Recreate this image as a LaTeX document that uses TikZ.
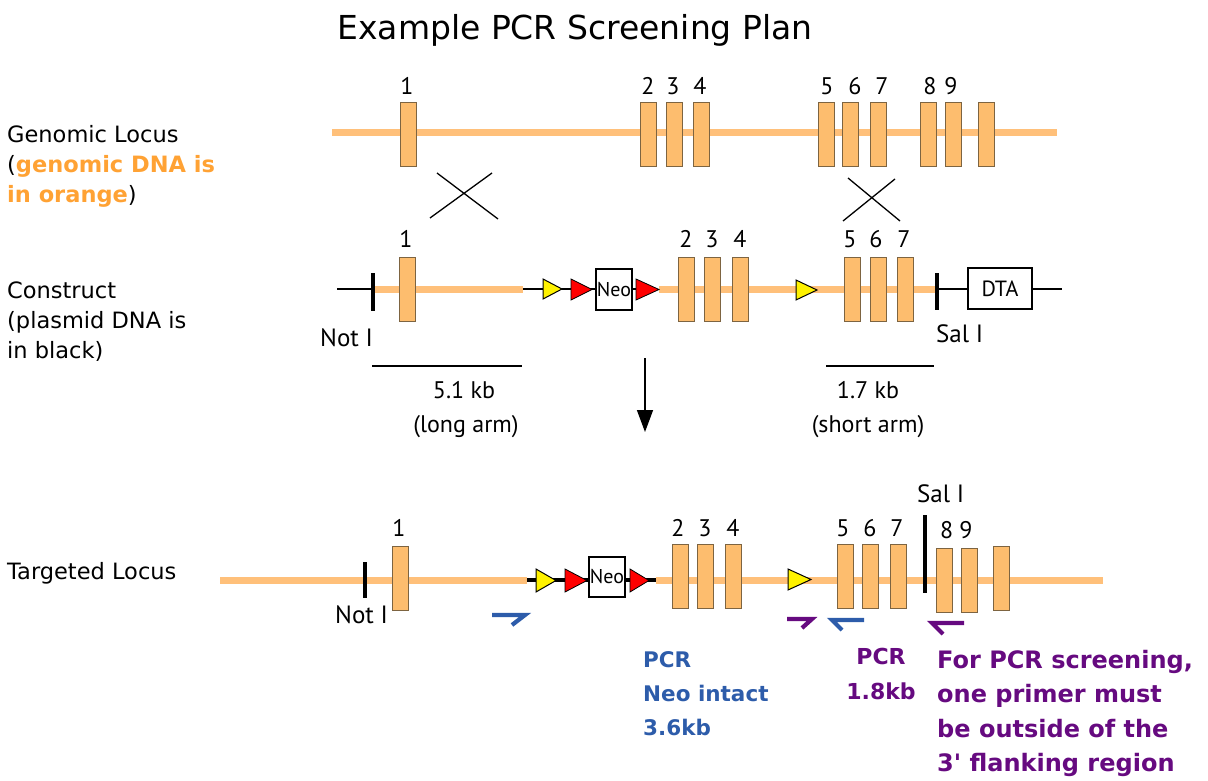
\documentclass[tikz,border=0pt]{standalone}
\usepackage{fontspec}
\setmainfont{DejaVu Sans}
\newfontfamily\labfont{PT Sans}
\usetikzlibrary{arrows.meta,positioning}

\definecolor{dnaorange}{RGB}{255,192,122}
\definecolor{exonfill}{RGB}{253,189,110}
\definecolor{exonedge}{RGB}{125,100,65}
\definecolor{txtorange}{RGB}{255,162,52}
\definecolor{pcrblue}{RGB}{45,92,170}
\definecolor{pcrpurple}{RGB}{102,10,128}

\begin{document}
\begin{tikzpicture}[>=Stealth,x=1pt,y=-1pt,
 exon/.style={draw=exonedge,fill=exonfill,line width=0.8pt,minimum width=16pt,minimum height=64pt,inner sep=0pt},
 num/.style={font=\labfont\fontsize{24}{24}\selectfont,anchor=base,inner sep=0pt},
 site/.style={font=\labfont\fontsize{25}{25}\selectfont,anchor=base west,inner sep=0pt},
 lbl/.style={font=\fontsize{22.5}{30}\selectfont,align=left,anchor=north west,inner sep=0pt},
 gbox/.style={draw,line width=1.2pt,fill=white,inner sep=0pt,font=\labfont},
 dna/.style={dnaorange,line width=7pt},
 plas/.style={black,line width=2pt},
 cut/.style={black,line width=3.5pt},
 loxy/.style={fill=yellow,draw=black,line width=1pt},
 loxr/.style={fill=red,draw=black,line width=0.8pt},
 primer/.style={line width=4.2pt,line join=miter}]
\useasboundingbox (0,0) rectangle (1208,781);

% title and row labels
\node[font=\fontsize{33}{33}\selectfont,anchor=base,inner sep=0pt] (title) at (575,40) {Example PCR Screening Plan};
\node[lbl] (lgen) at (7,125) {Genomic Locus\\(\textcolor{txtorange}{\textbf{genomic DNA is}}\\\textcolor{txtorange}{\textbf{in orange}})};
\node[lbl] (lcon) at (7,282) {Construct\\(plasmid DNA is\\in black)};
\node[lbl] (ltar) at (7,562) {Targeted Locus};

% genomic locus
\draw[dna] (332,133) -- (1057,133);
\foreach \n/\x in {1/408.7,2/648.5,3/674,4/701.7,5/826,6/850.5,7/878.7,8/928.7,9/953.7,10/986.8}
  \node[exon] (g\n) at (\x,134.5) {};
\foreach \n/\x in {1/407,2/648,3/673,4/700,5/827,6/855,7/882,8/930,9/951}
  \node[num] (gn\n) at (\x,95) {\n};

% crossovers
\draw[line width=1.3pt] (430,218) -- (492,173) (437,173) -- (498,219);
\draw[line width=1.3pt] (843,221) -- (895,179) (848,178) -- (900,221);

% construct
\draw[plas] (337,289) -- (373,289);
\draw[dna] (373,289) -- (523,289);
\draw[plas] (523,289) -- (636,289);
\draw[dna] (659,289) -- (937,289);
\draw[plas] (937,289) -- (1062,289);
\draw[cut] (373,273) -- (373,311);
\draw[cut] (937,273) -- (937,310);
\draw[loxy] (543,279) -- (562,289) -- (543,299) -- cycle;
\draw[loxr] (571,279) -- (592,289.5) -- (571,300) -- cycle;
\draw[loxr] (636,279) -- (659,289.5) -- (636,300) -- cycle;
\draw[loxy] (796,280) -- (817,290) -- (796,300) -- cycle;
\node[gbox,minimum width=36pt,minimum height=41pt,font=\labfont\fontsize{20}{20}\selectfont] (neo1) at (614,289.5) {Neo};
\node[gbox,minimum width=64pt,minimum height=41pt,font=\labfont\fontsize{22}{22}\selectfont] (dta) at (1000,288.5) {DTA};
\foreach \n/\x in {1/407,2/686,3/712,4/740,5/852,6/878,7/905.7}
  \node[exon] (c\n) at (\x,289) {};
\foreach \n/\x in {1/406,2/686,3/712,4/740,5/850,6/876,7/904}
  \node[num] (cn\n) at (\x,247) {\n};
\node[site] (noti1) at (320,346) {Not I};
\node[site] (sali1) at (936,342) {Sal I};

% homology arms
\draw[line width=1.3pt] (372,366) -- (522,366);
\draw[line width=1.3pt] (826,366) -- (934,366);
\node[num] (arm1) at (464,398) {5.1 kb};
\node[num] (arm1b) at (466,432) {(long arm)};
\node[num] (arm2) at (868,398) {1.7 kb};
\node[num] (arm2b) at (868,432) {(short arm)};
\draw[-{Triangle[width=16pt,length=22pt]},line width=1.5pt] (645,358) -- (645,432);

% targeted locus
\draw[dna] (220,580) -- (527,580);
\draw[dna] (656,580) -- (1103,580);
\draw[cut] (527,580) -- (656,580);
\draw[cut] (365,562) -- (365,598);
\draw[cut] (925,515) -- (925,593);
\draw[loxy] (536,569) -- (556,580.5) -- (536,592) -- cycle;
\draw[loxr] (565,569) -- (587,580.5) -- (565,592) -- cycle;
\draw[loxr] (630,569) -- (649,580.5) -- (630,592) -- cycle;
\draw[loxy] (788,569) -- (811,579.5) -- (788,590) -- cycle;
\node[gbox,minimum width=36pt,minimum height=40pt,font=\labfont\fontsize{20}{20}\selectfont] (neo2) at (607,577) {Neo};
\foreach \n/\x in {1/400,10/1001}
  \node[exon] (t\n) at (\x,578) {};
\foreach \n/\x in {2/680,3/705,4/733.5,5/845,6/870,7/898.7}
  \node[exon] (t\n) at (\x,576) {};
\foreach \n/\x in {8/944.3,9/969.7}
  \node[exon] (t\n) at (\x,580) {};
\foreach \n/\x in {1/399,2/678,3/705,4/733,5/843,6/870,7/897}
  \node[num] (tn\n) at (\x,536) {\n};
\foreach \n/\x in {8/946.7,9/966}
  \node[num] (tn\n) at (\x,538) {\n};
\node[site] (noti2) at (335,623) {Not I};
\node[site] (sali2) at (917,502) {Sal I};

% primers
\draw[primer,pcrblue] (492,615) -- (525,615) -- (512,625);
\draw[primer,pcrpurple] (787,619) -- (812,619) -- (802,628);
\draw[primer,pcrblue] (864,620) -- (832,620) -- (842,630);
\draw[primer,pcrpurple] (964,623) -- (932,623) -- (943,634);

% PCR notes
\node[lbl,font=\bfseries\fontsize{21.5}{34}\selectfont,text=pcrblue] (pcr1) at (643,651) {PCR\\Neo intact\\3.6kb};
\node[lbl,font=\bfseries\fontsize{22}{35}\selectfont,text=pcrpurple,align=center,anchor=north] (pcr2) at (881,648) {PCR\\1.8kb};
\node[lbl,font=\bfseries\fontsize{24}{34.3}\selectfont,text=pcrpurple] (note) at (937,650) {For PCR screening,\\one primer must\\be outside of the\\3\textquotesingle{} flanking region};
\end{tikzpicture}
\end{document}
